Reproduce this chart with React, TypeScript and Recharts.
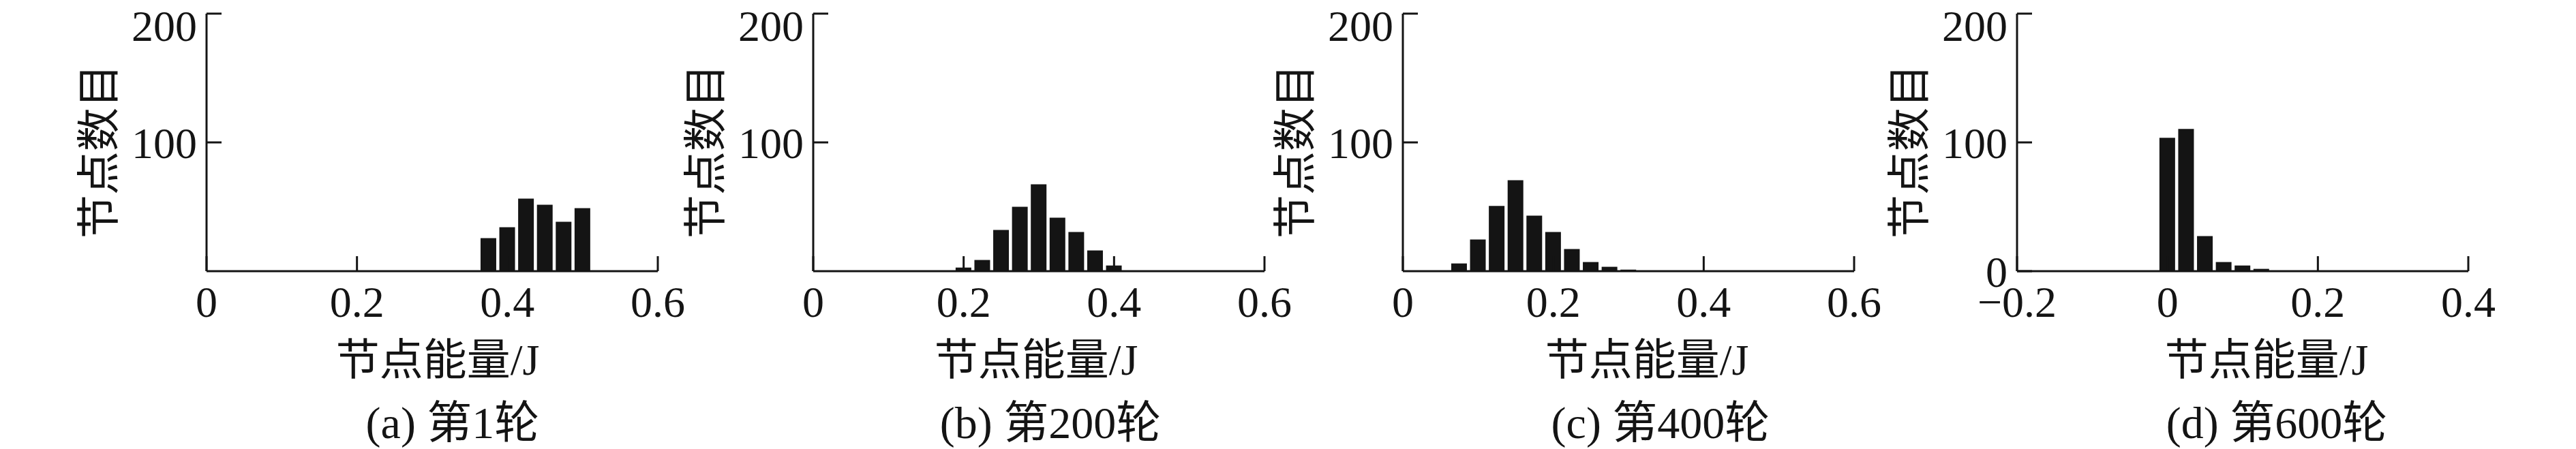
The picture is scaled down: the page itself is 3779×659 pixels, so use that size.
import { BarChart, Bar, XAxis, YAxis } from 'recharts'

// histogram bin centres (J) and node counts, one pair per round
const energyA = [0.375, 0.4, 0.425, 0.45, 0.475, 0.5]
const countsA = [25.6, 34.1, 56.4, 51.6, 38.4, 49]

const energyB = [0.2, 0.225, 0.25, 0.275, 0.3, 0.325, 0.35, 0.375, 0.4]
const countsB = [2.8, 8.7, 32, 50, 67.5, 41.6, 30.4, 16.1, 4.4]

const energyC = [0.075, 0.1, 0.125, 0.15, 0.175, 0.2, 0.225, 0.25, 0.275, 0.3]
const countsC = [6, 24.6, 50.6, 70.7, 43.1, 30.4, 17.2, 7.1, 3.4, 1.2]

const energyD = [0, 0.025, 0.05, 0.075, 0.1, 0.125]
const countsD = [103.6, 110.5, 27.2, 7.1, 4.4, 1.8]

const xTicksABC = [0, 0.2, 0.4, 0.6]
const xTicksD = [-0.2, 0, 0.2, 0.4]
const yTicksABC = [100, 200]
const yTicksD = [0, 100, 200]

const captions = ['(a) 第1轮', '(b) 第200轮', '(c) 第400轮', '(d) 第600轮']
const xTitle = '节点能量/J'
const yTitle = '节点数目'

const FONT = '"Liberation Serif", "Times New Roman", "Noto Sans CJK SC", serif'
const INK = '#141414'
const Y_W = 312
const PLOT_W = 662

const fmtX = (v: number) => (v < 0 ? '\u2212' + Math.abs(v) : String(v))

type PanelProps = {
  energy: number[]
  counts: number[]
  xTicks: number[]
  yTicks: number[]
  caption: string
  left: number
  titleShift: number
  captionShift: number
}

const Panel = ({ energy, counts, xTicks, yTicks, caption, left, titleShift, captionShift }: PanelProps) => {
  const data = energy.map((e, i) => ({ energy: e, count: counts[i] }))

  return (
    <div style={{ position: 'absolute', left: left - Y_W, top: 0 }}>
      <BarChart
        width={Y_W + PLOT_W + 60}
        height={659}
        data={data}
        margin={{ top: 20, right: 60, left: 0, bottom: 61 }}
      >
        <XAxis
          type="number"
          dataKey="energy"
          domain={[xTicks[0], xTicks[xTicks.length - 1]]}
          ticks={xTicks}
          tickFormatter={fmtX}
          height={200}
          tickSize={-22}
          tickMargin={44}
          axisLine={{ stroke: INK, strokeWidth: 3 }}
          tickLine={{ stroke: INK, strokeWidth: 3 }}
          tick={{ fontSize: 64, fill: INK, fontFamily: FONT }}
          label={(p: any) => {
            const vb = p.viewBox
            const cx = vb.x + vb.width / 2
            return (
              <g fontFamily={FONT} fill={INK}>
                <text x={cx + titleShift} y={528} textAnchor="middle" dominantBaseline="central" fontSize={64}>
                  {xTitle}
                </text>
                <text x={cx + captionShift} y={620} textAnchor="middle" dominantBaseline="central" fontSize={66}>
                  {caption}
                </text>
              </g>
            )
          }}
        />
        <YAxis
          type="number"
          domain={[0, 200]}
          ticks={yTicks}
          width={Y_W}
          tickSize={-22}
          tickMargin={36}
          axisLine={{ stroke: INK, strokeWidth: 3 }}
          tickLine={{ stroke: INK, strokeWidth: 3 }}
          tick={{ fontSize: 64, fill: INK, fontFamily: FONT }}
          label={(p: any) => {
            const vb = p.viewBox
            const x = vb.x + vb.width - 158
            const y = vb.y + vb.height / 2 + 13
            return (
              <text
                x={x}
                y={y}
                transform={`rotate(-90 ${x} ${y})`}
                textAnchor="middle"
                dominantBaseline="central"
                fontSize={64}
                fontFamily={FONT}
                fill={INK}
              >
                {yTitle}
              </text>
            )
          }}
        />
        <Bar dataKey="count" fill={INK} barSize={23} isAnimationActive={false} />
      </BarChart>
    </div>
  )
}

export default function App() {
  return (
    <div style={{ position: 'absolute', left: 0, top: 0, width: 3779, height: 659, background: '#fff', overflow: 'hidden' }}>
      <Panel energy={energyA} counts={countsA} xTicks={xTicksABC} yTicks={yTicksABC} caption={captions[0]} left={303} titleShift={8} captionShift={30} />
      <Panel energy={energyB} counts={countsB} xTicks={xTicksABC} yTicks={yTicksABC} caption={captions[1]} left={1193} titleShift={-4} captionShift={17} />
      <Panel energy={energyC} counts={countsC} xTicks={xTicksABC} yTicks={yTicksABC} caption={captions[2]} left={2058} titleShift={27} captionShift={47} />
      <Panel energy={energyD} counts={countsD} xTicks={xTicksD} yTicks={yTicksD} caption={captions[3]} left={2959} titleShift={35} captionShift={50} />
    </div>
  )
}
